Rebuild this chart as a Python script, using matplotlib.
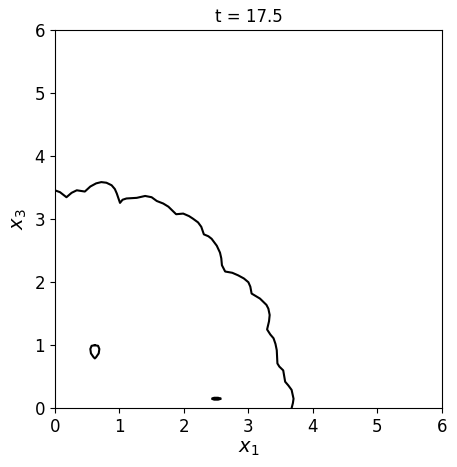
import numpy as np
import matplotlib
matplotlib.use('Agg')
import matplotlib.pyplot as plt

# main front (x1, x3)
front_x = [0.00, 0.08, 0.18, 0.26, 0.34, 0.465, 0.55, 0.64, 0.72, 0.80, 0.88, 0.93, 0.96, 1.01,
           1.05, 1.11, 1.27, 1.40, 1.50, 1.58, 1.68, 1.76, 1.88, 1.99, 2.08, 2.14, 2.22, 2.27, 2.31, 2.38, 2.43,
           2.51, 2.56, 2.58, 2.59, 2.64, 2.75, 2.84, 2.93, 3.00, 3.03, 3.05, 3.18, 3.23, 3.28, 3.31, 3.33,
           3.32, 3.29, 3.34, 3.39, 3.42, 3.44, 3.45, 3.48, 3.54, 3.57, 3.62, 3.67, 3.70, 3.69, 3.67]
front_y = [3.46, 3.43, 3.35, 3.42, 3.46, 3.44, 3.52, 3.57, 3.59, 3.58, 3.54, 3.48, 3.41, 3.26,
           3.31, 3.33, 3.34, 3.37, 3.35, 3.29, 3.25, 3.20, 3.08, 3.09, 3.05, 3.01, 2.95, 2.88, 2.76, 2.73, 2.69,
           2.58, 2.47, 2.38, 2.27, 2.17, 2.15, 2.11, 2.06, 2.00, 1.93, 1.82, 1.74, 1.69, 1.64, 1.58, 1.48,
           1.38, 1.25, 1.17, 1.11, 1.02, 0.92, 0.71, 0.66, 0.60, 0.42, 0.36, 0.29, 0.15, 0.08, 0.00]

# small closed loop near (0.62, 0.89)
loop_x = [0.62, 0.67, 0.69, 0.68, 0.64, 0.62, 0.60, 0.56, 0.55, 0.57, 0.62]
loop_y = [1.00, 0.99, 0.94, 0.87, 0.81, 0.79, 0.81, 0.87, 0.94, 0.99, 1.00]

# tiny island near (2.5, 0.15)
dash_x = [2.43, 2.47, 2.53, 2.58, 2.53, 2.47, 2.43]
dash_y = [0.15, 0.165, 0.165, 0.15, 0.135, 0.135, 0.15]

fig, ax = plt.subplots(figsize=(4.57, 4.67), dpi=100)
fig.subplots_adjust(left=0.12, right=0.967, top=0.935, bottom=0.126)

ax.plot(front_x, front_y, c='k', lw=1.5)
ax.plot(loop_x, loop_y, c='k', lw=1.5)
ax.fill(dash_x, dash_y, c='k', lw=1.5)

ax.set_xlim(0, 6)
ax.set_ylim(0, 6)
ax.set_xticks(range(0, 7))
ax.set_yticks(range(0, 7))
for label in ax.get_xticklabels() + ax.get_yticklabels():
    label.set_fontsize(12)
ax.set_xlabel(r'$x_1$', fontsize=14, labelpad=2)
ax.set_ylabel(r'$x_3$', fontsize=14)
ax.set_title('t = 17.5', fontsize=12)

plt.savefig('out.png', dpi=100)
